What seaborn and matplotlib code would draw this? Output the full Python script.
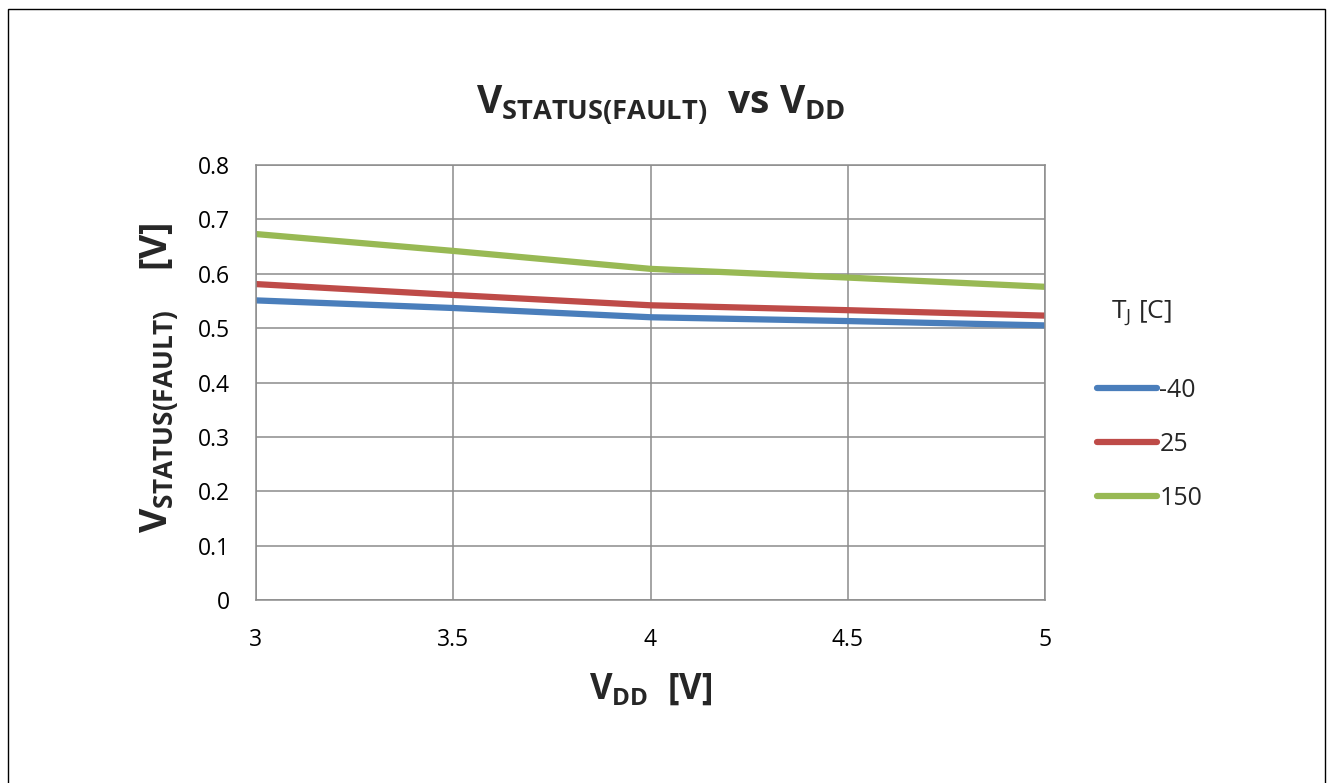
import matplotlib
matplotlib.use("Agg")
import matplotlib.pyplot as plt
import seaborn as sns
import pandas as pd
from matplotlib.patches import Rectangle

vdd = [3.0, 3.5, 4.0, 4.5, 5.0]
v_m40 = [0.551, 0.537, 0.520, 0.513, 0.505]
v_25 = [0.581, 0.561, 0.542, 0.533, 0.523]
v_150 = [0.673, 0.642, 0.609, 0.593, 0.576]
temps = ["-40", "25", "150"]
colors = ["#4a7ebb", "#be4b48", "#98b954"]
xticks = [3, 3.5, 4, 4.5, 5]
yticks = [0, 0.1, 0.2, 0.3, 0.4, 0.5, 0.6, 0.7, 0.8]

sns.set_theme(style="white")
plt.rcParams["font.family"] = ["Open Sans", "DejaVu Sans"]
plt.rcParams["mathtext.fontset"] = "custom"
plt.rcParams["mathtext.rm"] = "Open Sans"
plt.rcParams["mathtext.it"] = "Open Sans"
plt.rcParams["mathtext.bf"] = "Open Sans:bold"

df = pd.DataFrame({
    "VDD": vdd * 3,
    "V": v_m40 + v_25 + v_150,
    "TJ": [temps[0]] * 5 + [temps[1]] * 5 + [temps[2]] * 5,
})

fig = plt.figure(figsize=(13.32, 7.83), dpi=100)
ax = fig.add_axes([256 / 1332, 1 - 600 / 783, (1045 - 256) / 1332, (600 - 165) / 783])

sns.lineplot(data=df, x="VDD", y="V", hue="TJ", hue_order=temps,
             palette=colors, linewidth=4.5, ax=ax, legend=True)

ax.set_xlim(3, 5)
ax.set_ylim(0, 0.8)
ax.set_xticks(xticks)
ax.set_xticklabels(["3", "3.5", "4", "4.5", "5"])
ax.set_yticks(yticks)
ax.set_yticklabels(["0", "0.1", "0.2", "0.3", "0.4", "0.5", "0.6", "0.7", "0.8"])
ax.tick_params(axis="both", labelsize=16.5, colors="black", length=0)
ax.tick_params(axis="x", pad=20)
ax.tick_params(axis="y", pad=19)
ax.grid(True, color="#8c8c8c", linewidth=1.1)
for s in ax.spines.values():
    s.set_color("#8c8c8c")
    s.set_linewidth(1.1)

ax.set_xlabel(r"$\mathbf{V_{DD}}$  [V]", fontsize=25, fontweight="bold",
              va="center", ha="center")
ax.xaxis.set_label_coords(0.5, (600 - 690) / 435)
ax.set_ylabel(r"$\mathbf{V_{STATUS(FAULT)}}$    [V]", fontsize=27, fontweight="bold",
              va="center", ha="center")
ax.yaxis.set_label_coords((160 - 256) / 789, (600 - 378) / 435)

fig.text(661 / 1332, 1 - 105 / 783, r"$\mathbf{V_{STATUS(FAULT)}}$  vs $\mathbf{V_{DD}}$",
         fontsize=28, fontweight="bold", ha="center", va="center")

handles, labels = ax.get_legend_handles_labels()
ax.legend(handles, labels, loc="upper left",
          bbox_to_anchor=(1097 / 1332, 1 - 378 / 783), bbox_transform=fig.transFigure,
          frameon=False, fontsize=18, handlelength=2.4, handletextpad=0.1,
          labelspacing=1.16, borderpad=0, borderaxespad=0)

fig.text(1111 / 1332, 1 - 313 / 783, r"T$_\mathrm{J}$ [C]", fontsize=19,
         ha="left", va="center")

fig.patches.append(Rectangle((8 / 1332, -0.05), (1325 - 8) / 1332, 1 - 9 / 783 + 0.05,
                             transform=fig.transFigure, fill=False,
                             edgecolor="black", linewidth=1.0))

fig.savefig("out.png", dpi=100)
